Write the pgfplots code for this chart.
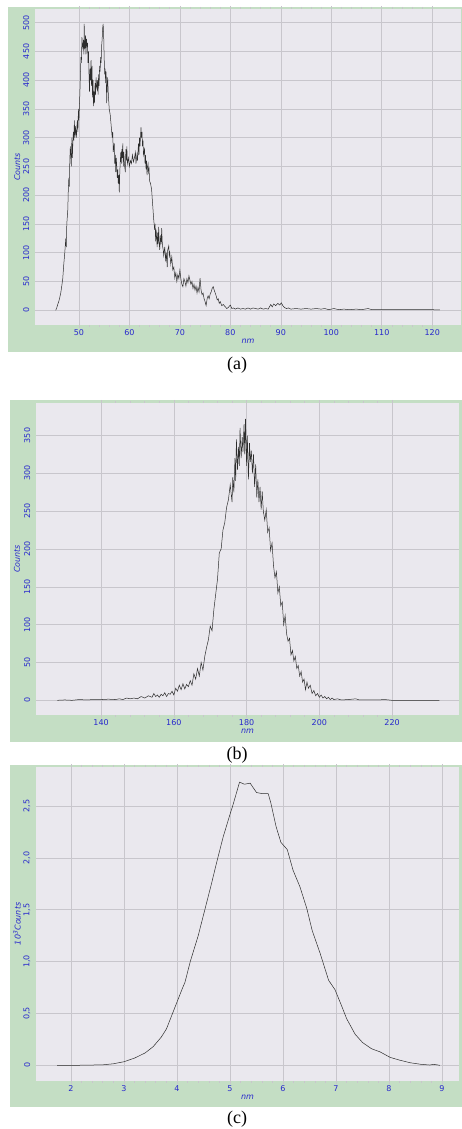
\documentclass[border=0pt]{standalone}
\usepackage{fontspec}
\setmainfont{Liberation Serif}
\newfontfamily\tickfont{DejaVu Sans}
\usepackage{pgfplots}
\pgfplotsset{compat=1.18}
\definecolor{framegreen}{RGB}{196,222,196}
\definecolor{plotbg}{RGB}{234,232,238}
\definecolor{tickblue}{RGB}{40,40,205}
\definecolor{gridgray}{RGB}{200,198,204}
\definecolor{curve}{RGB}{45,45,45}

\pgfplotstableread{
x y
45.4 0
45.6 4
45.8 10
46.0 15
46.2 22
46.4 30
46.6 42
46.8 55
47.0 80
47.2 100
47.4 125
47.5 110
47.6 150
47.8 175
47.9 210
48.0 230
48.1 215
48.2 262
48.3 285
48.4 270
48.5 250
48.6 300
48.7 265
48.8 290
48.9 310
49.0 295
49.1 330
49.2 300
49.3 320
49.4 310
49.5 300
49.6 320
49.7 330
49.8 310
49.9 350
50.0 330
50.2 380
50.4 440
50.5 430
50.6 475
50.7 460
50.8 455
50.9 470
51.0 445
51.05 498
51.1 470
51.2 455
51.3 478
51.4 445
51.5 472
51.6 460
51.7 465
51.8 430
51.9 450
52.0 410
52.1 380
52.2 420
52.3 400
52.4 435
52.5 390
52.6 425
52.7 370
52.8 400
52.9 355
53.0 380
53.1 360
53.2 395
53.3 375
53.4 405
53.5 390
53.6 385
53.7 400
53.8 375
53.9 410
54.0 390
54.1 425
54.2 415
54.3 440
54.4 430
54.5 460
54.6 470
54.7 490
54.8 498
54.9 480
55.0 440
55.1 410
55.2 420
55.3 395
55.4 415
55.5 360
55.6 390
55.7 405
55.8 380
55.9 365
56.0 350
56.2 340
56.4 320
56.6 300
56.7 310
56.8 275
57.0 290
57.1 255
57.2 270
57.3 240
57.4 265
57.5 250
57.6 230
57.7 245
57.8 220
57.9 235
58.0 205
58.1 240
58.2 260
58.3 275
58.4 255
58.5 280
58.6 265
58.7 290
58.8 250
58.9 275
59.0 255
59.2 240
59.3 280
59.4 260
59.5 285
59.6 255
59.8 265
60.0 250
60.2 260
60.4 255
60.6 270
60.8 258
61.0 265
61.2 275
61.3 255
61.5 270
61.6 260
61.8 290
61.9 270
62.0 300
62.1 285
62.3 318
62.4 300
62.5 310
62.6 285
62.7 295
62.8 270
63.0 280
63.1 255
63.2 270
63.3 245
63.4 260
63.5 235
63.6 250
63.7 255
63.8 240
63.9 245
64.0 225
64.2 220
64.4 210
64.6 185
64.8 160
65.0 140
65.1 150
65.2 120
65.3 140
65.4 125
65.5 110
65.6 135
65.7 115
65.8 145
65.9 120
66.0 105
66.2 130
66.3 115
66.4 143
66.5 120
66.6 110
66.7 105
66.8 95
67.0 110
67.2 85
67.3 100
67.4 90
67.5 75
67.6 105
67.8 112
67.9 95
68.0 100
68.2 80
68.4 93
68.6 70
68.8 75
69.0 56
69.2 65
69.4 50
69.6 62
69.8 55
70.0 70
70.2 55
70.4 45
70.6 41
70.8 55
71.0 50
71.2 42
71.4 55
71.6 48
71.8 60
72.0 52
72.2 45
72.4 50
72.6 38
72.8 45
73.0 35
73.2 42
73.4 30
73.6 40
73.8 32
74.0 56
74.2 35
74.4 27
74.6 30
74.8 20
75.0 15
75.2 8
75.4 20
75.6 25
75.8 20
76.0 28
76.2 32
76.4 38
76.6 41
76.8 35
77.0 30
77.2 25
77.4 18
77.6 20
77.8 12
78.0 15
78.3 8
78.6 10
79.0 6
79.3 3
79.6 5
80.0 9
80.3 3
80.6 4
81.0 2
81.5 4
82.0 2
82.5 3
83.0 2
83.5 4
84.0 2
84.5 4
85.0 3
85.5 2
86.0 4
86.5 2
87.0 3
87.5 2
88.0 10
88.3 6
88.6 11
89.0 8
89.4 12
89.8 9
90.1 13
90.4 8
90.7 5
91.1 3
91.5 4
92.0 2
93.0 3
94.0 2
95.0 3
96.0 2
97.0 3
98.0 2
98.7 3
99.5 1
100.5 3
101.5 1
102.5 2
103.5 1
105.0 2
106.0 1
107.3 3
108.0 1
109.5 1
111.0 1
113.0 1
115.0 1
117.0 1
119.0 1
120.0 1
121.5 0.5
}\dataA

\pgfplotstableread{
x y
128 0
130 0.5
132 0
134 1
136 0.5
138 1
140 1
142 1.5
144 1
145 2
146 1
147 3
148 2
149 3
150 2
151 5
152 3
153 6
154 4
154.5 9
155 5
155.5 7
156 4
156.5 8
157 6
157.5 10
158 5
158.5 9
159 8
159.5 12
160 7
160.5 16
161 12
161.5 20
162 14
162.5 22
163 15
163.5 21
164 18
164.5 26
165 20
165.5 35
166 28
166.5 42
167 32
167.5 50
168 40
168.5 58
169 70
169.5 80
170 98
170.5 92
171 120
171.5 140
172 160
172.5 195
173 200
173.5 225
174 235
174.5 255
175 265
175.5 285
176 262
176.2 295
176.5 275
176.8 320
177 290
177.2 345
177.5 305
177.8 335
178 310
178.2 360
178.5 320
178.8 348
179 328
179.3 365
179.5 325
179.7 372
180 310
180.2 350
180.5 292
180.8 340
181 315
181.3 330
181.6 300
181.9 325
182.2 282
182.5 312
182.8 268
183.1 292
183.4 262
183.7 282
184 252
184.3 276
184.6 250
185 238
185.4 252
185.8 222
186.2 228
186.6 198
187 208
187.4 178
187.8 162
188.2 170
188.6 142
189 150
189.4 125
189.8 130
190.2 100
190.6 112
191 88
191.4 78
191.8 82
192.2 60
192.6 66
193 52
193.4 58
193.8 42
194.2 46
194.6 32
195 38
195.4 24
195.8 28
196.2 14
196.6 24
197 16
197.5 20
198 9
198.5 13
199 6
199.5 9
200 4
200.5 7
201 3
201.5 5
202 2
202.5 4
203 1
203.5 3
204 1
205 2
206 0.5
208 1
210 2
211 0.5
213 0.5
216 0.5
218 1
220 0
225 0
230 0
233 0
}\dataB

\pgfplotstableread{
x y
1.74 0
2.2 0.001
2.6 0.005
2.8 0.015
3.0 0.035
3.2 0.07
3.4 0.12
3.55 0.18
3.7 0.27
3.8 0.35
3.9 0.48
4.0 0.61
4.1 0.74
4.15 0.8
4.25 1.0
4.4 1.25
4.53 1.51
4.65 1.75
4.75 1.96
4.87 2.2
5.0 2.42
5.05 2.5
5.18 2.73
5.27 2.71
5.38 2.72
5.5 2.63
5.6 2.62
5.72 2.62
5.77 2.53
5.87 2.3
5.96 2.15
6.08 2.08
6.19 1.88
6.32 1.72
6.45 1.51
6.55 1.3
6.7 1.08
6.86 0.82
6.98 0.73
7.1 0.58
7.2 0.45
7.36 0.3
7.5 0.22
7.67 0.16
7.83 0.13
8.02 0.077
8.2 0.05
8.4 0.025
8.6 0.01
8.77 0.003
8.84 0.01
8.96 0
}\dataC

\pgfplotsset{
  histo/.style={
    scale only axis,
    anchor=south west,
    axis background/.style={fill=plotbg},
    axis line style={draw=none},
    grid=major,
    major grid style={draw=gridgray, line width=0.6pt},
    tick align=outside,
    major tick length=3pt,
    minor tick length=2pt,
    every tick/.style={draw=gridgray, line width=0.6pt},
    ytick style={draw=none},
    minor x tick num=4,
    /pgf/number format/assume math mode=true,
    /pgf/number format/1000 sep={},
    tick label style={font=\tickfont\fontsize{8}{9}\selectfont, text=tickblue},
    xticklabel style={inner sep=1.5pt},
    yticklabel style={rotate=90, anchor=south, inner sep=2.5pt},
    label style={font=\tickfont\itshape\fontsize{8}{9}\selectfont, text=tickblue},
    xlabel style={at={(axis description cs:0.5,0)}, anchor=north, yshift=-14pt, inner sep=0pt},
    clip=true,
  }
}

\begin{document}
\begin{tikzpicture}[x=1pt,y=1pt]
\useasboundingbox (0,0) rectangle (462,1129);
\fill[white] (0,0) rectangle (462,1129);
% green frames
\fill[framegreen] (8,777) rectangle (462,1122);
\fill[framegreen] (10,387) rectangle (462,729);
\fill[framegreen] (10,22) rectangle (462,364);

% (a)
\begin{axis}[histo,
  at={(35pt,804pt)}, width=426pt, height=316pt,
  xmin=41.3, xmax=125.7, ymin=-25.6, ymax=523.8,
  xtick={50,60,...,120}, ytick={0,50,...,500},
  xlabel={nm}, ylabel={Counts},
  ylabel style={at={(axis description cs:-0.042,0.5)}, anchor=center, rotate=0},
]
\addplot[color=curve, line width=0.5pt, no markers] table[x=x,y=y] {\dataA};
\end{axis}
\node[font=\fontsize{18}{20}\selectfont] at (237,764) {(a)};

% (b)
\begin{axis}[histo,
  at={(36pt,414pt)}, width=423pt, height=312pt,
  xmin=122.1, xmax=238.4, ymin=-19.4, ymax=393,
  xtick={140,160,...,220}, ytick={0,50,...,350},
  xlabel={nm}, ylabel={Counts},
  ylabel style={at={(axis description cs:-0.045,0.5)}, anchor=center, rotate=0},
]
\addplot[color=curve, line width=0.5pt, no markers] table[x=x,y=y] {\dataB};
\end{axis}
\node[font=\fontsize{18}{20}\selectfont] at (237,374) {(b)};

% (c)
\begin{axis}[histo,
  at={(36pt,48.3pt)}, width=423pt, height=313.7pt,
  xmin=1.34, xmax=9.32, ymin=-0.148, ymax=2.876,
  xtick={2,3,...,9}, ytick={0,0.5,1,1.5,2,2.5},
  yticklabels={0,{0,5},{1,0},{1,5},{2,0},{2,5}},
  xlabel={nm}, ylabel={10\textsuperscript{3}Counts},
  ylabel style={at={(axis description cs:-0.045,0.5)}, anchor=center, rotate=0},
]
\addplot[color=curve, line width=0.5pt, no markers] table[x=x,y=y] {\dataC};
\end{axis}
\node[font=\fontsize{18}{20}\selectfont] at (237,10) {(c)};
\end{tikzpicture}
\end{document}
